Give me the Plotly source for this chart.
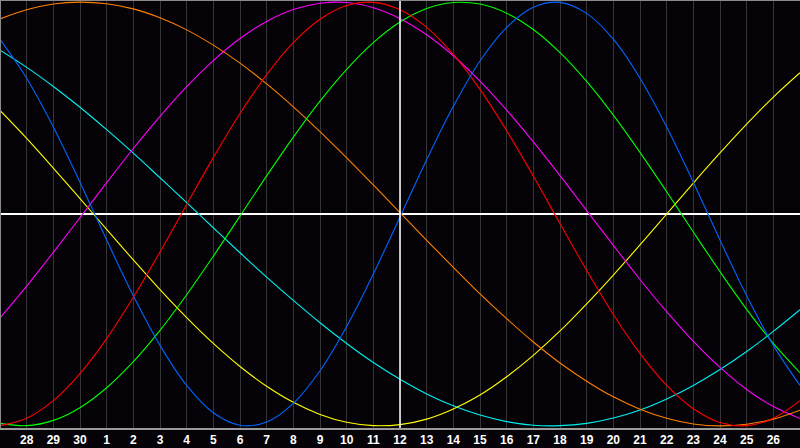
import plotly.graph_objects as go

# x positions: day index 0..30 (index 15 = day 12, today)
day_index = list(range(31))
day_labels = ["", "28", "29", "30", "1", "2", "3", "4", "5", "6", "7", "8", "9", "10",
              "11", "12", "13", "14", "15", "16", "17", "18", "19", "20", "21", "22",
              "23", "24", "25", "26", ""]
today_index = 15

# cycle values read at each day (-1..1)
physical_23 = [0.825, 0.641, 0.411, 0.150, -0.123, -0.386, -0.620, -0.809, -0.938, -0.997,
               -0.982, -0.894, -0.740, -0.531, -0.283, -0.014, 0.256, 0.508, 0.722, 0.881,
               0.976, 0.999, 0.947, 0.825, 0.641, 0.411, 0.150, -0.123, -0.386, -0.620, -0.809]
emotional_28 = [-0.999, -0.964, -0.881, -0.753, -0.588, -0.393, -0.179, 0.045, 0.266, 0.474,
                0.658, 0.809, 0.919, 0.984, 0.999, 0.964, 0.881, 0.753, 0.588, 0.393,
                0.179, -0.045, -0.266, -0.474, -0.658, -0.809, -0.919, -0.984, -0.999, -0.964, -0.881]
intellectual_33 = [-0.988, -0.999, -0.974, -0.914, -0.820, -0.697, -0.549, -0.381, -0.199, -0.010,
                   0.180, 0.363, 0.533, 0.683, 0.809, 0.906, 0.970, 0.998, 0.991, 0.948,
                   0.871, 0.762, 0.626, 0.467, 0.291, 0.105, -0.085, -0.272, -0.450, -0.611, -0.749]
intuitive_38 = [-0.490, -0.340, -0.181, -0.017, 0.148, 0.309, 0.461, 0.601, 0.724, 0.828,
                0.909, 0.965, 0.995, 0.998, 0.973, 0.922, 0.846, 0.747, 0.627, 0.490,
                0.340, 0.181, 0.016, -0.148, -0.309, -0.461, -0.601, -0.724, -0.828, -0.909, -0.965]
aesthetic_43 = [0.489, 0.357, 0.217, 0.073, -0.073, -0.217, -0.357, -0.489, -0.611, -0.720,
                -0.813, -0.889, -0.946, -0.983, -0.999, -0.994, -0.968, -0.920, -0.854, -0.768,
                -0.667, -0.552, -0.424, -0.288, -0.146, 0.000, 0.146, 0.288, 0.424, 0.552, 0.667]
awareness_48 = [0.921, 0.964, 0.991, 1.000, 0.992, 0.968, 0.926, 0.869, 0.797, 0.712,
                0.614, 0.506, 0.389, 0.265, 0.137, 0.007, -0.124, -0.252, -0.377, -0.494,
                -0.604, -0.703, -0.789, -0.863, -0.921, -0.964, -0.991, -1.000, -0.992, -0.968, -0.926]
spiritual_53 = [0.773, 0.692, 0.602, 0.504, 0.398, 0.287, 0.171, 0.054, -0.065, -0.183,
                -0.298, -0.408, -0.513, -0.611, -0.701, -0.780, -0.849, -0.905, -0.949, -0.980,
                -0.997, -0.999, -0.988, -0.963, -0.925, -0.873, -0.809, -0.734, -0.649, -0.554, -0.452]

series = [
    ("Spiritual", spiritual_53, "#00f0f0"),
    ("Aesthetic", aesthetic_43, "#ffff00"),
    ("Intuitive", intuitive_38, "#ff00ff"),
    ("Awareness", awareness_48, "#ff8000"),
    ("Intellectual", intellectual_33, "#00ff00"),
    ("Emotional", emotional_28, "#ff0000"),
    ("Physical", physical_23, "#0066ff"),
]

bg = "#050308"
fig = go.Figure()
for name, vals, col in series:
    fig.add_trace(go.Scatter(x=day_index, y=vals, mode="lines", name=name,
                             line=dict(color=col, width=1.1, shape="spline"),
                             hoverinfo="skip"))

fig.add_shape(type="line", xref="x", yref="paper", x0=today_index, x1=today_index,
              y0=0, y1=1, line=dict(color="#ffffff", width=1.5), layer="above")
fig.add_shape(type="line", xref="paper", yref="paper", x0=0, x1=1, y0=1, y1=1,
              line=dict(color="#8a8a8a", width=2))
fig.add_shape(type="line", xref="paper", yref="paper", x0=0, x1=0, y0=0, y1=1,
              line=dict(color="#8a8a8a", width=2))

fig.update_layout(
    width=800, height=448,
    margin=dict(l=0, r=0, t=0, b=20, autoexpand=False),
    paper_bgcolor=bg, plot_bgcolor=bg,
    showlegend=False,
    xaxis=dict(range=[0, 30], tickmode="array", tickvals=day_index, ticktext=day_labels,
               showgrid=True, gridcolor="#363636", gridwidth=1, zeroline=False,
               showline=True, linecolor="#9a9a9a", linewidth=2,
               ticks="", ticklabelstandoff=0,
               tickfont=dict(family="Liberation Sans", size=12, color="#ffffff", weight="bold")),
    yaxis=dict(range=[-1.01, 1.01], showgrid=False, showticklabels=False, ticks="",
               zeroline=True, zerolinecolor="#ffffff", zerolinewidth=1.5),
)

fig.write_html("out.html", config={"displayModeBar": False},
               post_script="document.body.style.margin='0';document.body.style.background='#050308';")
